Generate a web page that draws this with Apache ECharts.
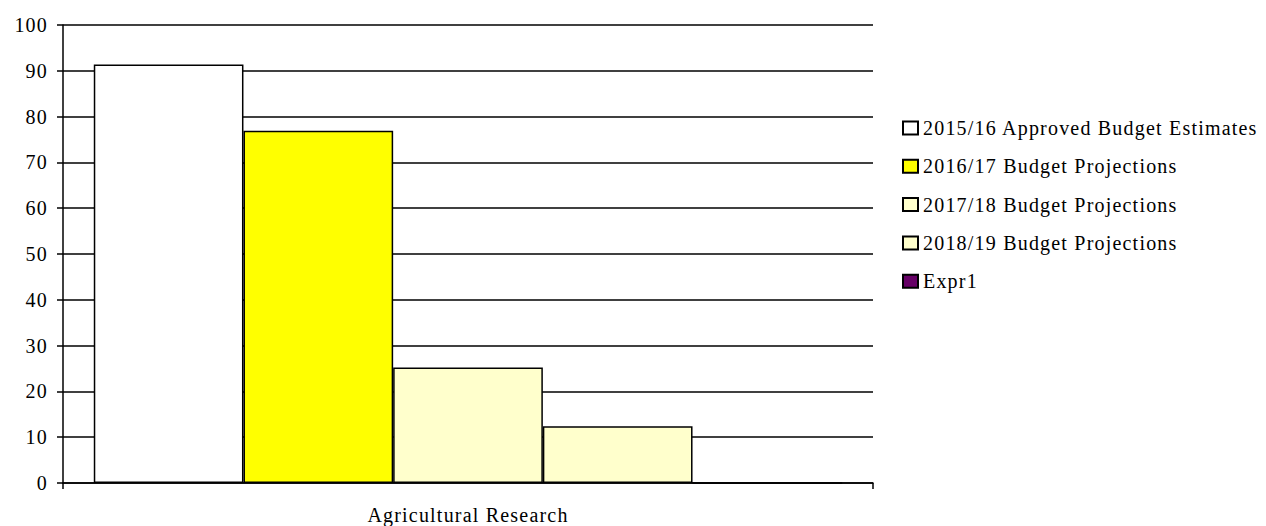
<!DOCTYPE html>
<html>
<head>
<meta charset="utf-8">
<script src="https://cdn.jsdelivr.net/npm/echarts@6/dist/echarts.min.js"></script>
<style>html,body{margin:0;padding:0;background:#fff}#c{width:1266px;height:526px}#c svg text{letter-spacing:1.2px}</style>
</head>
<body>
<div id="c"></div>
<script>
const categories = ["Agricultural Research"];
const seriesNames = ["2015/16 Approved Budget Estimates", "2016/17 Budget Projections", "2017/18 Budget Projections", "2018/19 Budget Projections", "Expr1"];
const seriesValues = [[91.4], [76.9], [25.2], [12.4], [0]];
const seriesColors = ["#FFFFFF", "#FFFF00", "#FFFFCC", "#FFFFCC", "#660066"];
const yTicks = { min: 0, max: 100, interval: 10 };

const font = "Liberation Serif";
const chart = echarts.init(document.getElementById('c'), null, { renderer: 'svg' });
chart.setOption({
  animation: false,
  backgroundColor: '#fff',
  textStyle: { fontFamily: font },
  grid: { left: 63, right: 393, top: 25, bottom: 43, containLabel: false },
  legend: {
    orient: 'vertical',
    left: 897,
    top: 113,
    itemWidth: 15,
    itemHeight: 13,
    itemGap: 18.3,
    textStyle: { fontFamily: font, fontSize: 20, color: '#000' },
    data: seriesNames.map(n => ({ name: n, icon: 'rect' }))
  },
  xAxis: {
    type: 'category',
    data: categories,
    axisLine: { lineStyle: { color: '#000', width: 1.5 } },
    axisTick: { show: true, alignWithLabel: false, length: 6, lineStyle: { color: '#000', width: 1.5 } },
    axisLabel: { color: '#000', fontSize: 20, fontFamily: font, margin: 22 }
  },
  yAxis: {
    type: 'value',
    min: yTicks.min, max: yTicks.max, interval: yTicks.interval,
    axisLine: { show: true, lineStyle: { color: '#000', width: 1.5 } },
    axisTick: { show: true, length: 6, lineStyle: { color: '#000', width: 1.5 } },
    axisLabel: { color: '#000', fontSize: 20, fontFamily: font, margin: 15 },
    splitLine: { show: true, lineStyle: { color: '#000', width: 1.5 } }
  },
  series: seriesNames.map((n, i) => ({
    name: n,
    type: 'bar',
    data: seriesValues[i],
    barGap: '0%',
    barCategoryGap: '7.6%',
    itemStyle: { color: seriesColors[i], borderColor: '#000', borderWidth: 1.5 }
  }))
});
</script>
</body>
</html>
